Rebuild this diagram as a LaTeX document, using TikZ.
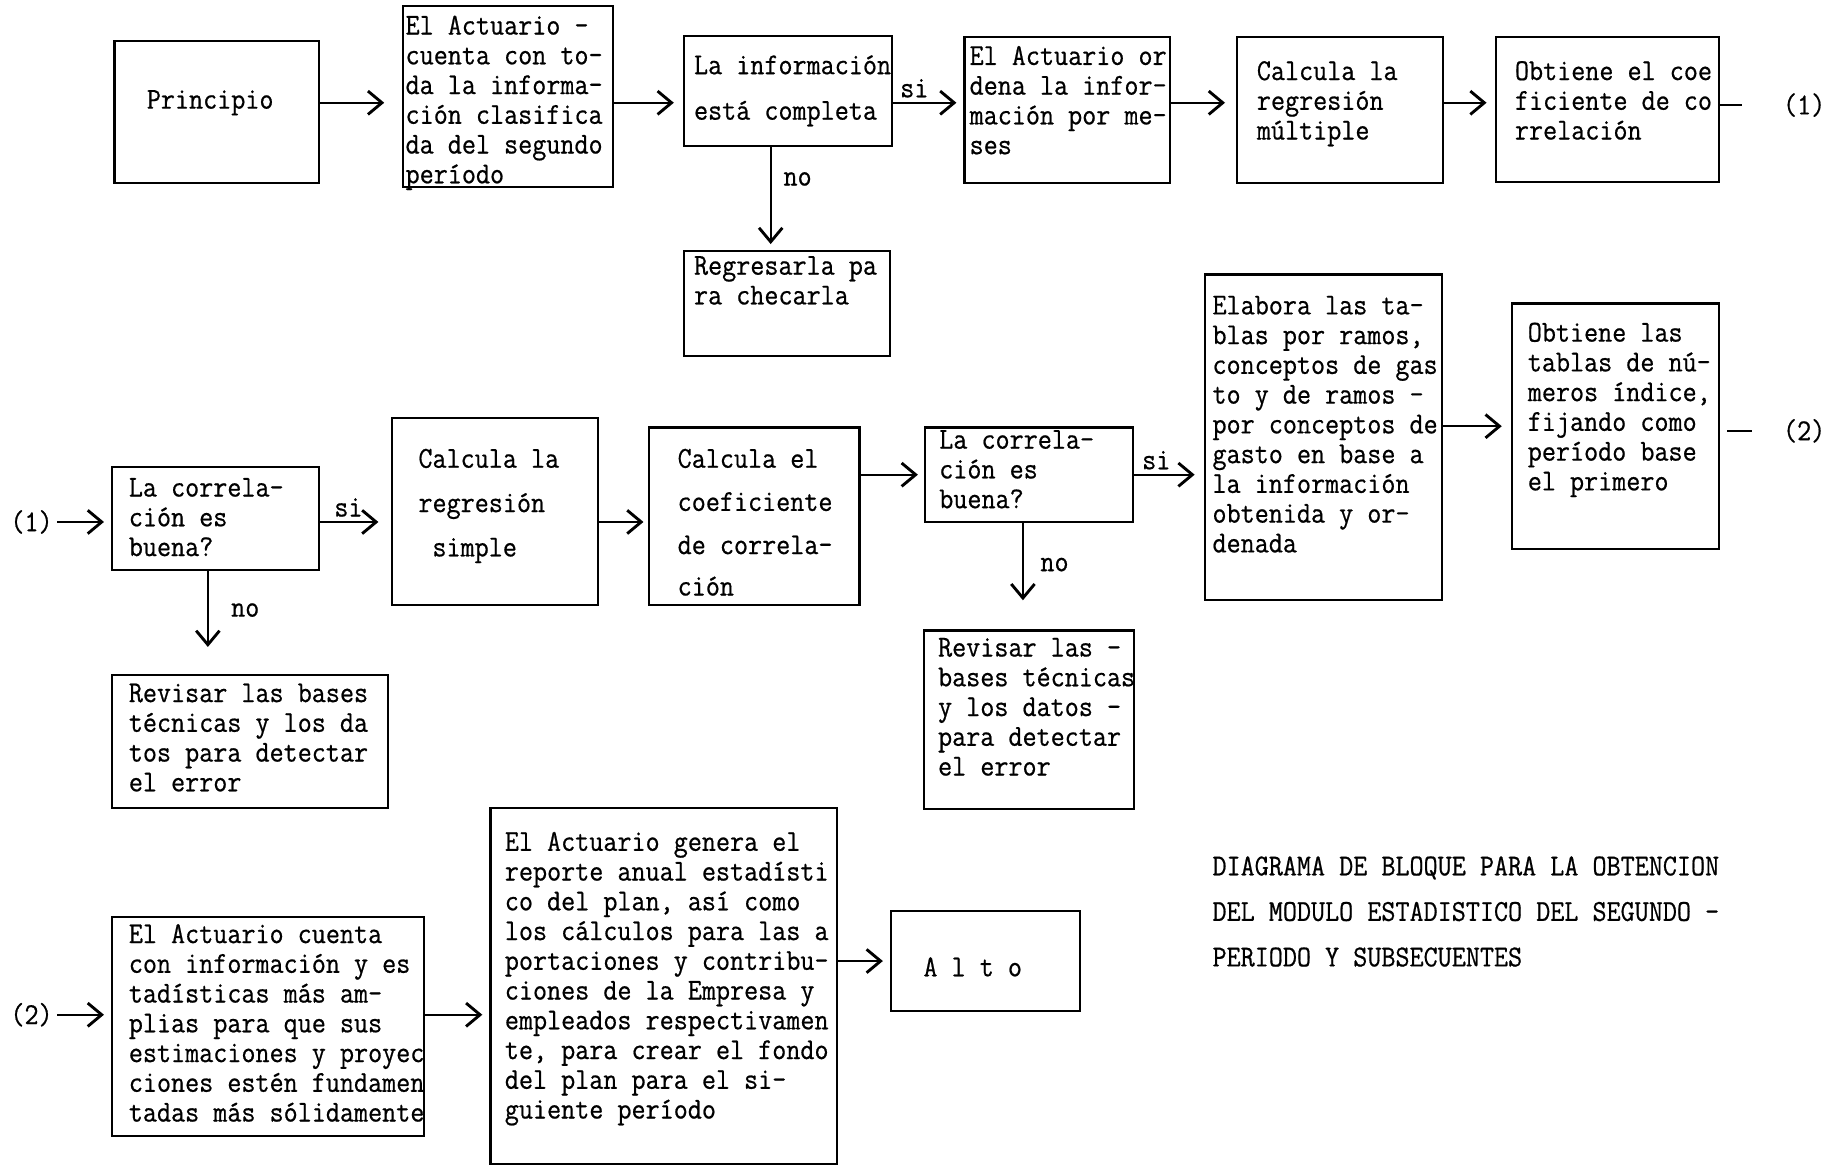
\documentclass[tikz,border=0pt]{standalone}
\usepackage{fontspec}
\newfontfamily\maq[FakeStretch=0.9,FakeBold=0.6]{Latin Modern Mono}
\usetikzlibrary{arrows.meta,fit}

\begin{document}
\begin{tikzpicture}[x=0.02cm,y=-0.02cm,
  caja/.style={draw,line width=1.1pt,inner sep=0pt},
  txt/.style={font=\maq\fontsize{14.8}{14.5}\selectfont,align=left,inner sep=0pt,anchor=north west},
  lbl/.style={font=\maq\fontsize{14.8}{14.5}\selectfont,inner sep=2pt},
  flecha/.style={line width=1.1pt,-{Straight Barb[length=2.4mm,width=4mm,line width=1.4pt]},shorten >=0.12cm},
  linea/.style={line width=1.1pt}]
\useasboundingbox (0,0) rectangle (1568,999);

\node[caja,fit={(98,35) (273,157)}] (prin) {};
\node[caja,fit={(345,5) (525,160)}] (act1) {};
\node[caja,fit={(586,31) (764,125)}] (info) {};
\node[caja,fit={(826,32) (1002,157)}] (ord) {};
\node[caja,fit={(1059,32) (1236,157)}] (mult) {};
\node[caja,fit={(1281,32) (1472,156)}] (coefm) {};
\node[caja,fit={(586,215) (762,305)}] (regr) {};
\node[caja,fit={(96,400) (273,488)}] (cor1) {};
\node[caja,fit={(336,358) (512,518)}] (simp) {};
\node[caja,fit={(556,366) (736,518)}] (coef) {};
\node[caja,fit={(792,366) (970,447)}] (cor2) {};
\node[caja,fit={(1032,235) (1235,514)}] (elab) {};
\node[caja,fit={(1295,260) (1472,470)}] (tab) {};
\node[caja,fit={(96,578) (332,692)}] (rev1) {};
\node[caja,fit={(791,540) (971,693)}] (rev2) {};
\node[caja,fit={(96,785) (363,973)}] (cuen) {};
\node[caja,fit={(420,692) (717,997)}] (gen) {};
\node[caja,fit={(763,780) (925,866)}] (alto) {};

\node[txt,anchor=center] (print) at (180,88) {Principio};
\node[txt] (act1t) at (347,13) {El Actuario -\\cuenta con to-\\da la informa-\\ción clasifica\\da del segundo\\período};
\node[txt] (infot) at (594,47) {La información\\[0.27cm]está completa};
\node[txt] (ordt) at (830,39) {El Actuario or\\dena la infor-\\mación por me-\\ses};
\node[txt] (multt) at (1076,52) {Calcula la\\regresión\\múltiple};
\node[txt] (coefmt) at (1297,52) {Obtiene el coe\\ficiente de co\\rrelación};
\node[txt] (regrt) at (594,219) {Regresarla pa\\ra checarla};
\node[txt] (cor1t) at (110,409) {La correla-\\ción es\\buena?};
\node[txt] (simpt) at (358,384) {Calcula la\\[0.25cm]regresión\\[0.25cm]\hspace*{0.24cm}simple};
\node[txt] (coeft) at (580,384) {Calcula el\\[0.23cm]coeficiente\\[0.23cm]de correla-\\[0.2cm]ción};
\node[txt] (cor2t) at (804,368) {La correla-\\ción es\\buena?};
\node[txt] (elabt) at (1038,253) {Elabora las ta-\\blas por ramos,\\conceptos de gas\\to y de ramos -\\por conceptos de\\gasto en base a\\la información\\obtenida y or-\\denada};
\node[txt] (tabt) at (1308,276) {Obtiene las\\tablas de nú-\\meros índice,\\fijando como\\período base\\el primero};
\node[txt] (rev1t) at (110,585) {Revisar las bases\\técnicas y los da\\tos para detectar\\el error};
\node[txt] (rev2t) at (803,546) {Revisar las -\\bases técnicas\\y los datos -\\para detectar\\el error};
\node[txt] (cuent) at (110,791) {El Actuario cuenta\\con información y es\\tadísticas más am-\\plias para que sus\\estimaciones y proyec\\ciones estén fundamen\\tadas más sólidamente};
\node[txt] (gent) at (432,712) {El Actuario genera el\\reporte anual estadísti\\co del plan, así como\\los cálculos para las a\\portaciones y contribu-\\ciones de la Empresa y\\empleados respectivamen\\te, para crear el fondo\\del plan para el si-\\guiente período};
\node[txt,anchor=center] (altot) at (833,828) {A l t o};
\node[txt] (capt) at (1038,733) {DIAGRAMA DE BLOQUE PARA LA OBTENCION\\[0.27cm]DEL MODULO ESTADISTICO DEL SEGUNDO -\\[0.27cm]PERIODO Y SUBSECUENTES};

\node[lbl] (out1) at (1545,90) {(1)};
\node[lbl] (in1) at (27,447) {(1)};
\node[lbl] (out2) at (1545,369) {(2)};
\node[lbl] (in2) at (27,869) {(2)};
\coordinate (f1) at (0,88);

\draw[flecha,shorten >=0.3cm] (prin.east |- f1) -- (act1.west |- f1);
\draw[flecha,shorten >=0.16cm] (act1.east |- f1) -- (info.west |- f1);
\draw[flecha] (info.east |- f1) -- node[lbl,above,pos=0.3] (si1) {si} (ord.west |- f1);
\draw[flecha,shorten >=0.18cm] (ord.east |- f1) -- (mult.west |- f1);
\draw[flecha,shorten >=0.14cm] (mult.east |- f1) -- (coefm.west |- f1);
\draw[linea,shorten >=0.62cm] (coefm.east |- out1) -- (out1.west);
\draw[flecha,shorten >=0.1cm] ([xshift=-0.3cm]info.south) -- node[lbl,right=0.13cm,pos=0.31] (no1) {no} ([xshift=-0.3cm]info.south |- regr.north);

\draw[flecha] (in1.east) -- (cor1.west |- in1);
\draw[flecha,shorten >=0.22cm] (cor1.east |- in1) -- node[lbl,above,pos=0.4] (si2) {si} (simp.west |- in1);
\draw[flecha,shorten >=0.08cm] (simp.east |- in1) -- (coef.west |- in1);
\draw[flecha,shorten >=0.1cm] (coef.east |- cor2.west) -- (cor2.west);
\draw[flecha,shorten >=0.16cm] (cor2.east) -- node[lbl,above,pos=0.32] (si3) {si} (cor2.east -| elab.west);
\draw[flecha,shorten >=0.16cm] (elab.east |- tab.west) -- (tab.west);
\draw[linea,shorten <=0.12cm,shorten >=0.46cm] (tab.east |- out2) -- (out2.west);
\draw[flecha,shorten >=0.46cm] ([xshift=-0.13cm]cor1.south) -- node[lbl,right=0.31cm,pos=0.38] (no2) {no} ([xshift=-0.13cm]cor1.south |- rev1.north);
\draw[flecha,shorten >=0.5cm] ([xshift=-0.1cm]cor2.south) -- node[lbl,right=0.21cm,pos=0.39] (no3) {no} ([xshift=-0.1cm]cor2.south |- rev2.north);

\draw[flecha] (in2.east) -- (cuen.west |- in2);
\draw[flecha] (cuen.east |- in2) -- (gen.west |- in2);
\draw[flecha] (gen.east |- alto.west) -- (alto.west);
\end{tikzpicture}
\end{document}
